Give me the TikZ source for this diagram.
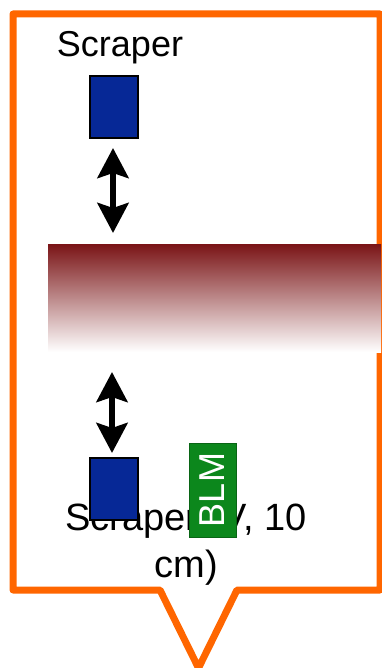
\documentclass[tikz,border=0pt]{standalone}
\usepackage{fontspec}
\setmainfont{Liberation Sans}
\usetikzlibrary{arrows.meta}
\definecolor{frameorange}{RGB}{255,102,0}
\definecolor{scraperblue}{RGB}{6,40,150}
\definecolor{blmgreen}{RGB}{12,135,28}
\definecolor{beamred}{RGB}{122,20,22}
\begin{document}
\begin{tikzpicture}[x=1bp,y=-1bp,
  bigtext/.style={font=\fontsize{36bp}{47bp}\selectfont, inner sep=0pt},
  captiontext/.style={font=\fontsize{38bp}{47bp}\selectfont, inner sep=0pt, align=center},
  scraperbox/.style={draw=black, line width=2bp, fill=scraperblue,
    minimum width=48bp, minimum height=62bp, inner sep=0pt},
  blmbox/.style={draw=blmgreen!75!black, line width=1bp, fill=blmgreen,
    rotate=90, minimum width=94bp, minimum height=47bp, inner sep=0pt,
    text=white, font=\fontsize{36bp}{40bp}\selectfont},
  motion/.style={line width=6bp,
    {Stealth[length=30bp,width=31bp,inset=5bp]}-{Stealth[length=30bp,width=31bp,inset=5bp]}},
  callout/.style={draw=frameorange, line width=7bp, line join=round}]
\useasboundingbox (0,0) rectangle (381,668);

% callout frame with its pointer at the bottom
\draw[callout] (160,590) -- (13,590) -- (13,14) -- (380,14) -- (380,590)
  -- (237,590) -- (198.5,668) -- cycle;

% beam
\shade[top color=beamred, bottom color=white] (48,244) rectangle (381,352);

% upper scraper
\node[bigtext, anchor=base] (toplabel) at (120,57) {Scraper};
\node[scraperbox] (topscraper) at (114,107) {};
\coordinate (ta) at (113,148);
\coordinate (tb) at (113,233);
\draw[motion] (ta) -- (tb);

% lower scraper with its loss monitor
\node[captiontext] (botlabel) at (186,544) {Scraper (V, 10\\cm)};
\coordinate (ba) at (112,372);
\coordinate (bb) at (112,453);
\draw[motion] (ba) -- (bb);
\node[scraperbox] (botscraper) at (113.5,489) {};
\node[blmbox] (blm) at (212.5,490) {BLM};
\end{tikzpicture}
\end{document}
